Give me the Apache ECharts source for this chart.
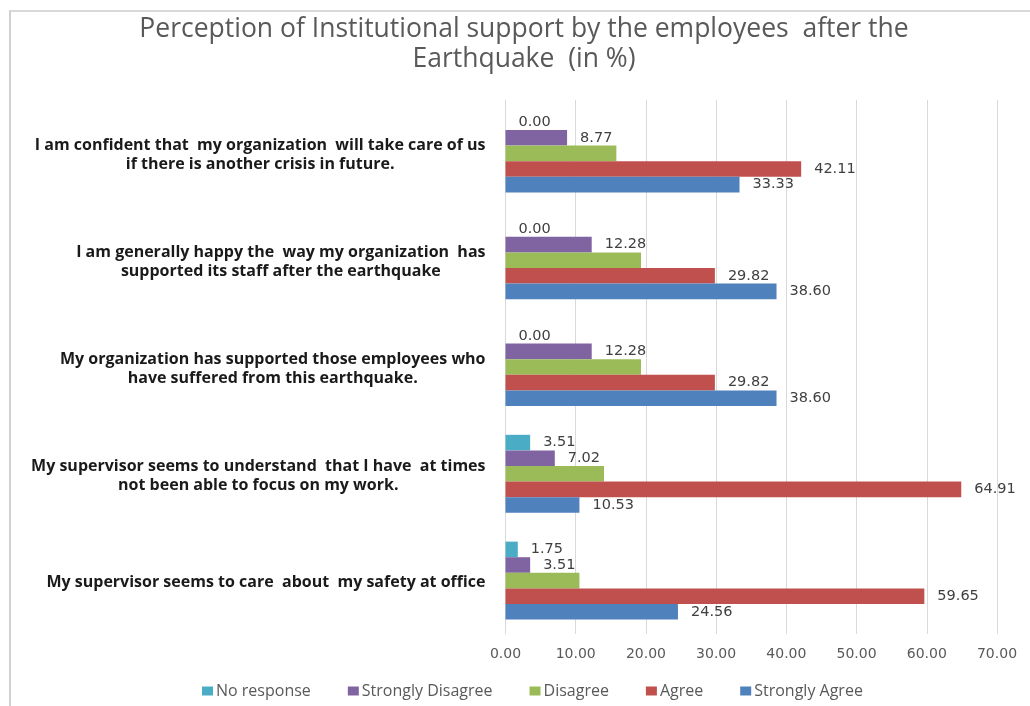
<!DOCTYPE html>
<html>
<head>
<meta charset="utf-8">
<script src="https://cdn.jsdelivr.net/npm/echarts@6/dist/echarts.min.js"></script>
<style>
html,body{margin:0;padding:0;background:#fff;}
#chart{width:1030px;height:706px;position:absolute;left:0;top:0;}
#frame{position:absolute;left:9px;top:10px;width:1100px;height:800px;border-left:2px solid #d0d0d0;border-top:2px solid #d9d9d9;pointer-events:none;}
</style>
</head>
<body>
<div id="chart"></div>
<div id="frame"></div>
<script>
var titleLines = ['Perception of Institutional support by the employees  after the', 'Earthquake  (in %)'];
var categories = [
  'I am confident that  my organization  will take care of us\nif there is another crisis in future.',
  'I am generally happy the  way my organization  has\nsupported its staff after the earthquake',
  'My organization has supported those employees who\nhave suffered from this earthquake.',
  'My supervisor seems to understand  that I have  at times\nnot been able to focus on my work.',
  'My supervisor seems to care  about  my safety at office'
];
var seriesNames = ['No response', 'Strongly Disagree', 'Disagree', 'Agree', 'Strongly Agree'];
var noResponse = [0.00, 0.00, 0.00, 3.51, 1.75];
var stronglyDisagree = [8.77, 12.28, 12.28, 7.02, 3.51];
var disagree = [15.79, 19.30, 19.30, 14.03, 10.53];
var agree = [42.11, 29.82, 29.82, 64.91, 59.65];
var stronglyAgree = [33.33, 38.60, 38.60, 10.53, 24.56];
var showLabels = [true, true, false, true, true];
var colors = ['#4BACC6', '#8064A2', '#9BBB59', '#C0504D', '#4F81BD'];
var xTicks = {min: 0, max: 70, interval: 10};

var seriesData = [noResponse, stronglyDisagree, disagree, agree, stronglyAgree];

var chart = echarts.init(document.getElementById('chart'), null, {renderer: 'canvas'});
var series = seriesNames.map(function (name, i) {
  return {
    name: name,
    type: 'bar',
    data: seriesData[i],
    barGap: '0%',
    barCategoryGap: '27%',
    itemStyle: {color: colors[i]},
    label: {
      show: showLabels[i],
      position: 'right',
      distance: 13,
      fontFamily: 'DejaVu Sans',
      fontSize: 14.5,
      color: '#404040',
      formatter: function (p) { return p.value.toFixed(2); }
    }
  };
});

chart.setOption({
  animation: false,
  backgroundColor: '#ffffff',
  color: colors,
  title: {
    text: titleLines.join('\n'),
    left: 519,
    textAlign: 'center',
    top: 9,
    textStyle: {
      fontFamily: 'Open Sans',
      fontWeight: 'normal',
      fontSize: 26.5,
      color: '#595959',
      lineHeight: 30
    }
  },
  legend: {
    data: seriesNames,
    top: 678,
    left: 197,
    itemWidth: 11,
    itemHeight: 9,
    itemGap: 37,
    icon: 'rect',
    textStyle: {fontFamily: 'Open Sans', fontSize: 16, color: '#595959', padding: [0, 0, 0, -2]}
  },
  grid: {left: 505.5, right: 33, top: 100, bottom: 72, containLabel: false},
  xAxis: {
    type: 'value',
    min: xTicks.min,
    max: xTicks.max,
    interval: xTicks.interval,
    axisLine: {show: false},
    axisTick: {show: false},
    splitLine: {show: true, lineStyle: {color: '#d9d9d9', width: 1}},
    axisLabel: {
      margin: 13,
      fontFamily: 'DejaVu Sans',
      fontSize: 14,
      color: '#595959',
      formatter: function (v) { return v.toFixed(2); }
    }
  },
  yAxis: {
    type: 'category',
    inverse: true,
    data: categories,
    axisLine: {show: true, lineStyle: {color: '#d9d9d9'}},
    axisTick: {show: false},
    axisLabel: {
      margin: 20,
      padding: [4, 0, 0, 0],
      formatter: function (v) {
        return v.split('\n').map(function (s) { return '{c|' + s + '}'; }).join('\n');
      },
      rich: {
        c: {
          align: 'center',
          fontFamily: 'Open Sans',
          fontWeight: 'bold',
          fontSize: 16,
          color: '#1a1a1a',
          lineHeight: 19
        }
      }
    }
  },
  series: series
});
</script>
</body>
</html>
